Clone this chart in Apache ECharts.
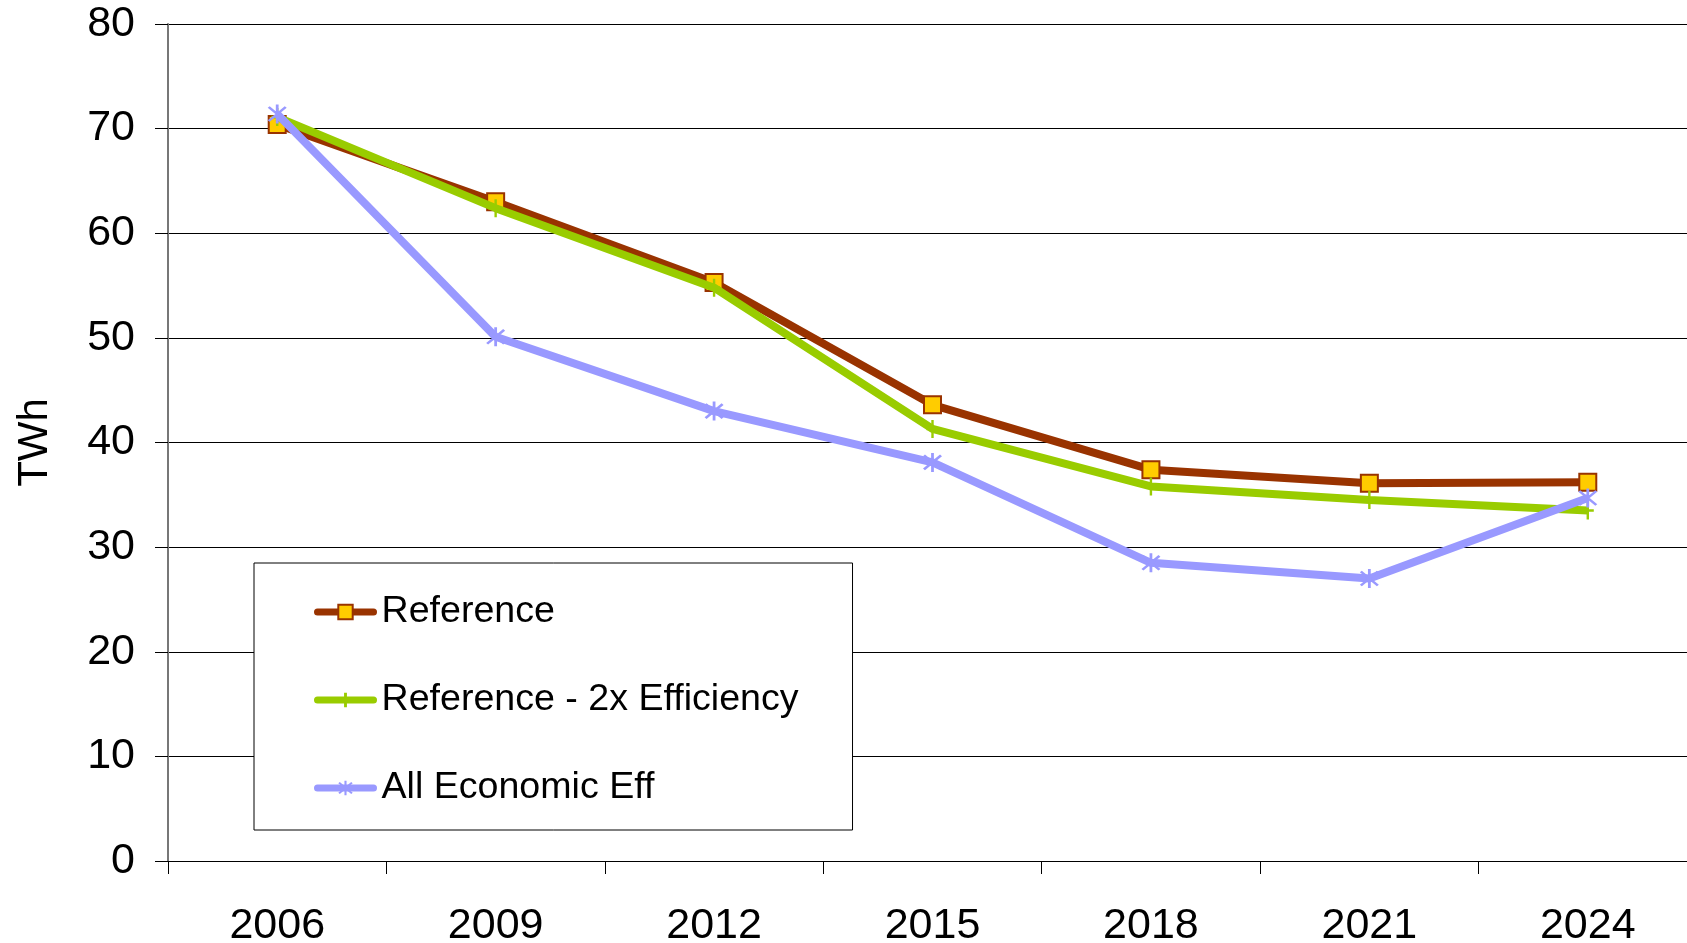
<!DOCTYPE html>
<html>
<head>
<meta charset="utf-8">
<script src="https://cdn.jsdelivr.net/npm/echarts@6/dist/echarts.min.js"></script>
<style>
  html, body { margin: 0; padding: 0; background: #fff; }
  #chart { width: 1687px; height: 943px; }
</style>
</head>
<body>
<div id="chart"></div>
<script>
var years = ['2006', '2009', '2012', '2015', '2018', '2021', '2024'];
var referenceValues = [70.4, 63.0, 55.3, 43.6, 37.4, 36.1, 36.2];
var efficiencyValues = [71.1, 62.4, 54.8, 41.3, 35.8, 34.5, 33.5];
var economicValues = [71.4, 50.1, 43.0, 38.1, 28.5, 27.0, 34.7];
var yTicks = [0, 10, 20, 30, 40, 50, 60, 70, 80];

var plusPath = 'path://M-1.2,-8L1.2,-8L1.2,8L-1.2,8Z M-6,-1.2L6,-1.2L6,1.2L-6,1.2Z';
var starPath = 'path://M-1.2,-10L1.2,-10L1.2,10L-1.2,10Z ' +
    'M-8.2,-6.5L-6.5,-8.2L8.2,6.5L6.5,8.2Z ' +
    'M6.5,-8.2L8.2,-6.5L-6.5,8.2L-8.2,6.5Z';

var font = 'Liberation Sans, Arial, sans-serif';

var myChart = echarts.init(document.getElementById('chart'));

option = {
    animation: false,
    backgroundColor: '#fff',
    textStyle: { fontFamily: font, color: '#000' },
    grid: {
        left: 168,
        top: 24,
        right: -10,
        bottom: 82,
        containLabel: false,
        outerBoundsMode: 'none'
    },
    legend: {
        orient: 'vertical',
        left: 254,
        top: 563,
        padding: [29, 54, 22, 60],
        itemGap: 48,
        itemWidth: 56,
        itemHeight: 18,
        borderColor: '#000',
        borderWidth: 1,
        backgroundColor: '#fff',
        lineStyle: { width: 7, cap: 'round' },
        textStyle: {
            fontFamily: font,
            fontSize: 37.6,
            lineHeight: 40,
            color: '#000',
            padding: [0, 0, 0, 3]
        },
        data: ['Reference', 'Reference - 2x Efficiency', 'All Economic Eff']
    },
    xAxis: {
        type: 'category',
        data: years,
        boundaryGap: true,
        axisLine: { lineStyle: { color: '#000', width: 1 } },
        axisTick: { show: true, length: 13, inside: false, lineStyle: { color: '#000' } },
        axisLabel: {
            fontFamily: font,
            fontSize: 43,
            color: '#000',
            margin: 44
        },
        splitLine: { show: false }
    },
    yAxis: {
        type: 'value',
        min: 0,
        max: 80,
        interval: 10,
        name: 'TWh',
        nameLocation: 'middle',
        nameRotate: 90,
        nameGap: 112,
        nameTextStyle: { fontFamily: font, fontSize: 42, color: '#000' },
        axisLine: { show: true, lineStyle: { color: '#777', width: 2 } },
        axisTick: { show: true, length: 13, lineStyle: { color: '#000' } },
        axisLabel: {
            fontFamily: font,
            fontSize: 43,
            color: '#000',
            margin: 33,
            formatter: function (v) { return yTicks.indexOf(v) >= 0 ? String(v) : ''; }
        },
        splitLine: { show: true, lineStyle: { color: '#000', width: 1 } }
    },
    series: [
        {
            name: 'Reference',
            type: 'line',
            data: referenceValues,
            symbol: 'rect',
            symbolSize: 17,
            showAllSymbol: true,
            lineStyle: { color: '#993300', width: 8 },
            itemStyle: { color: '#FFCC00', borderColor: '#993300', borderWidth: 2 },
            z: 2
        },
        {
            name: 'Reference - 2x Efficiency',
            type: 'line',
            data: efficiencyValues,
            symbol: plusPath,
            symbolSize: [12, 18],
            showAllSymbol: true,
            lineStyle: { color: '#99CC00', width: 8 },
            itemStyle: { color: '#99CC00', borderWidth: 0 },
            z: 3
        },
        {
            name: 'All Economic Eff',
            type: 'line',
            data: economicValues,
            symbol: starPath,
            symbolSize: 19,
            showAllSymbol: true,
            lineStyle: { color: '#9999FF', width: 8 },
            itemStyle: { color: '#9999FF', borderWidth: 0 },
            z: 4
        }
    ]
};

myChart.setOption(option);
</script>
</body>
</html>
